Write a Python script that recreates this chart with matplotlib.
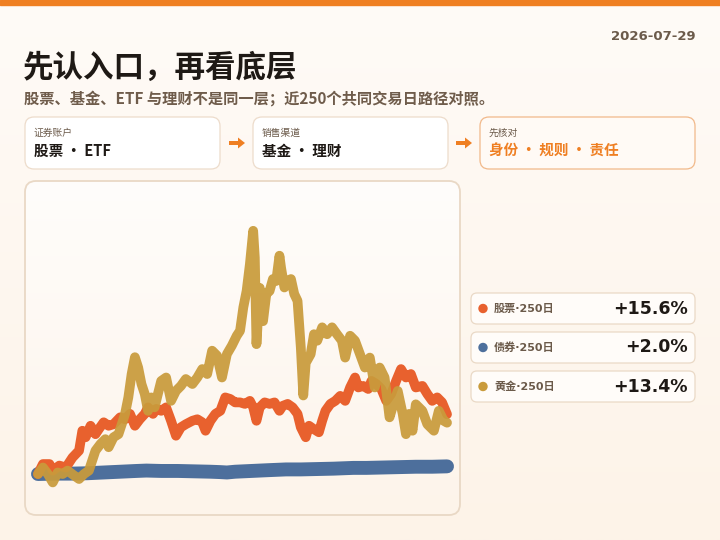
import numpy as np
import matplotlib.pyplot as plt
from matplotlib.patches import FancyBboxPatch, Rectangle, Circle, FancyArrow
from matplotlib.colors import LinearSegmentedColormap

plt.rcParams['font.family'] = ['Noto Sans CJK SC', 'DejaVu Sans']

# 近250个交易日累计收益(%)
stock_days = [0, 3, 7, 9, 13, 17, 21, 25, 27, 29, 32, 35, 37, 40, 43, 46, 50, 53, 56, 59,
              62, 65, 67, 70, 72, 75, 78, 81, 84, 87, 90, 94, 97, 100, 102, 105, 108, 111,
              114, 117, 120, 123, 126, 129, 131, 133, 135, 138, 141, 144, 147, 149, 152,
              155, 158, 160, 163, 165, 168, 171, 173, 175, 178, 181, 184, 187, 190, 193,
              195, 198, 201, 203, 206, 209, 212, 215, 218, 221, 224, 227, 230, 234, 237,
              240, 243, 246, 249]
stock_ret = [0.0, 2.6, 2.6, 0.9, 2.2, 1.7, 4.3, 6.1, 11.3, 9.6, 12.6, 10.4, 11.7, 13.5,
             12.6, 13.0, 14.8, 14.3, 15.7, 12.6, 14.3, 15.7, 17.4, 15.7, 17.0, 16.5, 17.4,
             13.9, 10.0, 12.2, 13.0, 13.9, 14.3, 13.5, 11.3, 13.9, 15.7, 16.5, 20.0, 19.6,
             18.7, 18.7, 18.3, 19.1, 17.4, 13.9, 17.4, 18.7, 18.3, 18.7, 16.5, 17.8, 18.3,
             17.4, 15.7, 12.2, 9.6, 12.6, 11.7, 10.9, 13.9, 16.5, 18.3, 19.1, 20.4, 19.1,
             22.6, 25.2, 22.6, 23.0, 22.2, 24.3, 23.5, 22.2, 19.1, 20.9, 24.3, 27.4, 25.2,
             26.1, 22.6, 23.0, 20.9, 19.1, 20.0, 18.7, 15.6]

bond_days = [0, 10, 20, 30, 40, 50, 60, 66, 75, 85, 95, 105, 111, 115, 120, 130, 140,
             151, 160, 170, 180, 192, 200, 210, 220, 230, 240, 249]
bond_ret = [0.0, 0.1, 0.1, 0.2, 0.4, 0.6, 0.8, 0.9, 0.8, 0.8, 0.7, 0.6, 0.5, 0.4, 0.6,
            0.8, 1.0, 1.2, 1.2, 1.3, 1.4, 1.6, 1.6, 1.7, 1.8, 1.9, 1.9, 2.0]

gold_days = [0, 3, 6, 9, 12, 15, 18, 22, 25, 28, 31, 33, 35, 38, 41, 43, 46, 49, 51, 53,
             55, 57, 59, 61, 63, 65, 67, 69, 71, 73, 75, 78, 81, 84, 87, 90, 94, 97, 100,
             103, 106, 109, 112, 115, 118, 121, 123, 125, 127, 129, 131, 132, 133, 135,
             137, 139, 141, 143, 145, 147, 148, 150, 152, 154, 156, 158, 160, 161.5, 163,
             166, 168, 170, 173, 176, 179, 182, 185, 187, 190, 193, 196, 199, 202, 205,
             208, 211, 214, 217, 219, 222, 224, 226, 228, 230, 234, 237, 241, 244, 247,
             249]
gold_ret = [0.0, 1.7, 0.0, -2.2, 0.4, 0.0, 0.9, -0.4, -1.3, 0.0, 0.9, 3.5, 6.1, 7.8, 9.1,
            7.0, 9.6, 10.4, 13.0, 15.7, 20.0, 26.1, 30.5, 27.8, 23.5, 20.9, 16.5, 20.0,
            17.4, 20.9, 24.3, 25.2, 19.1, 21.7, 23.0, 24.8, 23.5, 25.2, 27.4, 26.1, 32.2,
            30.9, 25.2, 31.3, 33.5, 36.1, 37.4, 43.5, 47.8, 54.8, 63.5, 56.5, 33.9, 48.6,
            39.9, 47.0, 47.8, 50.9, 50.4, 57.0, 53.8, 48.7, 50.4, 50.9, 47.0, 45.2, 33.0,
            20.5, 29.0, 31.3, 36.5, 34.8, 38.3, 36.5, 38.3, 36.5, 34.8, 30.4, 36.1, 34.8,
            31.3, 27.8, 30.4, 22.6, 27.8, 25.2, 14.8, 19.1, 21.7, 15.7, 10.4, 15.7, 11.3,
            18.2, 16.5, 13.0, 11.3, 16.5, 13.9, 13.4]

series_names = ['股票', '债券', '黄金']
final_ret = [15.6, 2.0, 13.4]
colors = ['#e8612e', '#4d6f9c', '#c99b3b']

step_labels = ['证券账户', '销售渠道', '先核对']
step_values = ['股票 · ETF', '基金 · 理财', '身份 · 规则 · 责任']

ink = '#1e1915'
muted = '#6b5a4a'
accent = '#ef7f22'

fig = plt.figure(figsize=(7.2, 5.4), dpi=100)

# 背景层，用像素坐标
bg = fig.add_axes([0, 0, 1, 1])
grad = np.linspace(0, 1, 256).reshape(-1, 1)
bg_cmap = LinearSegmentedColormap.from_list('bg', ['#fffbf7', '#fdf3e8'])
bg.imshow(grad, cmap=bg_cmap, extent=[0, 720, 540, 0], aspect='auto', zorder=0)
bg.set_xlim(0, 720)
bg.set_ylim(540, 0)
bg.axis('off')

bg.add_patch(Rectangle((0, 0), 720, 5, color=accent, zorder=2))

bg.text(696, 37, '2026-07-29', ha='right', va='center', fontsize=9.5,
        fontweight='bold', color=muted, family='DejaVu Sans')
bg.text(23, 68, '先认入口，再看底层', ha='left', va='center', fontsize=22,
        fontweight='bold', color=ink)
bg.text(24, 99, '股票、基金、ETF 与理财不是同一层；近250个共同交易日路径对照。',
        ha='left', va='center', fontsize=11, fontweight='bold', color='#6f5c4b')

# 三张步骤卡片
card_x = [25, 253, 480]
card_w = [195, 195, 215]
for i in range(3):
    last = i == 2
    bg.add_patch(FancyBboxPatch((card_x[i], 117), card_w[i], 52,
                                boxstyle='round,pad=0,rounding_size=9',
                                fc='#fffaf5' if last else 'white',
                                ec='#f1b98a' if last else '#eddccb', lw=0.9, zorder=2))
    bg.text(card_x[i] + 9, 133, step_labels[i], ha='left', va='center',
            fontsize=7, color=muted, zorder=3)
    bg.text(card_x[i] + 9, 151, step_values[i], ha='left', va='center',
            fontsize=10.5, fontweight='bold', color=accent if last else ink, zorder=3)
for ax_x in [229, 456]:
    bg.add_patch(FancyArrow(ax_x, 143, 9, 0, width=4, head_width=11, head_length=7,
                            length_includes_head=False, color=accent, lw=0, zorder=3))

# 图表面板
panel = FancyBboxPatch((25, 181), 435, 334, boxstyle='round,pad=0,rounding_size=11',
                       fc='none', ec='#e9d8c5', lw=1.3, zorder=3)
bg.add_patch(panel)
panel_cmap = LinearSegmentedColormap.from_list('panel', ['#fffdfb', '#fdf4ea'])
im = bg.imshow(grad, cmap=panel_cmap, extent=[25, 460, 515, 181], aspect='auto', zorder=1)
im.set_clip_path(panel)
bg.set_xlim(0, 720)
bg.set_ylim(540, 0)

# 右侧图例卡片
for i in range(3):
    top = 293 + i * 39
    bg.add_patch(FancyBboxPatch((471, top), 224, 31, boxstyle='round,pad=0,rounding_size=6',
                                fc='#fffcf9', ec='#ead9c6', lw=0.9, zorder=2))
    cy = top + 15.5
    bg.add_patch(Circle((483, cy), 4, color=colors[i], zorder=3))
    bg.text(494, cy, series_names[i] + '·250日', ha='left', va='center', fontsize=8,
            fontweight='bold', color=muted, zorder=3,
            family=['DejaVu Sans', 'Noto Sans CJK SC'])
    bg.text(688, cy, '%+.1f%%' % final_ret[i], ha='right', va='center', fontsize=12.5,
            fontweight='bold', color=ink, family='DejaVu Sans', zorder=3)

ax = fig.add_axes([25 / 720, 25 / 540, 435 / 720, 334 / 540])
ax.patch.set_alpha(0)
ax.plot(bond_days, bond_ret, color=colors[1], lw=10, solid_capstyle='round',
        solid_joinstyle='round')
ax.plot(stock_days, stock_ret, color=colors[0], lw=7, solid_capstyle='round',
        solid_joinstyle='round')
ax.plot(gold_days, gold_ret, color=colors[2], lw=7, alpha=0.93, solid_capstyle='round',
        solid_joinstyle='round')
ax.set_xlim(-7.9, 256.9)
ax.set_ylim(-10.7, 76.5)
ax.axis('off')

fig.savefig('out.png', dpi=100)
